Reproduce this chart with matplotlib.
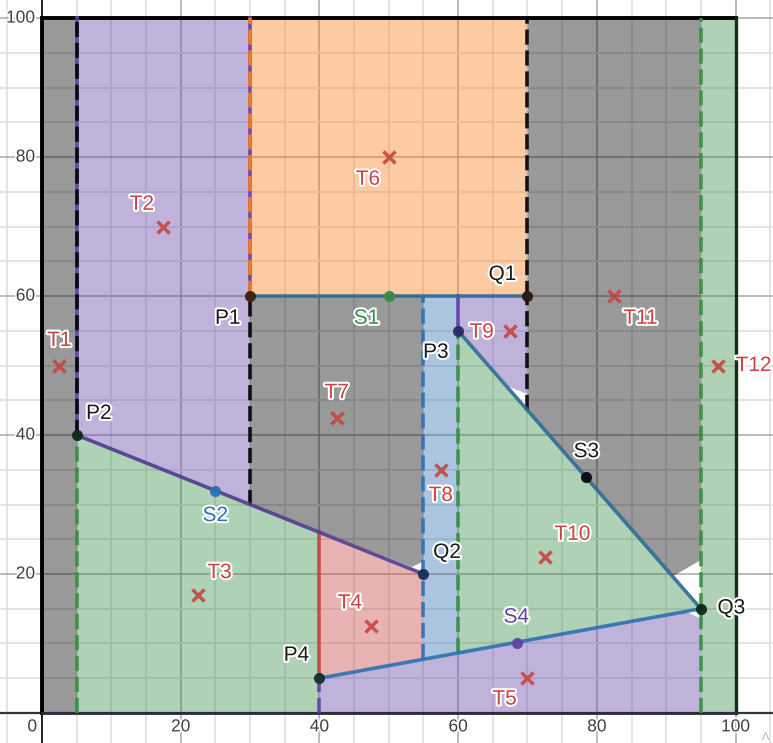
import matplotlib
matplotlib.use('Agg')
import matplotlib.pyplot as plt
import matplotlib.patheffects as pe
import numpy as np

plt.rcParams['font.family'] = ['Liberation Sans', 'DejaVu Sans']

RED = '#c74440'
BLUE = '#2d70b3'
GREEN = '#388c46'
PURPLE = '#6042a6'
ORANGE = '#fa7e19'
BLACK = '#000000'
DARK_BLUE = '#2f6a96'
DARK_PURPLE = '#4f3c8f'

# filled regions
gray_left = [(0, 0), (5, 0), (5, 100), (0, 100)]
gray_mid = [(30, 60), (55, 60), (55, 21.8), (53.3, 21.0), (30, 30)]
gray_right = [(70, 100), (95, 100), (95, 22), (91, 19.7), (70, 43.6)]
purple_left = [(5, 40), (30, 30), (30, 100), (5, 100)]
purple_top = [(60, 60), (70, 60), (70, 45.9), (67.4, 46.9), (60, 55)]
purple_bottom = [(40, 0), (95, 0), (95, 13.6), (92.8, 14.6), (40, 5)]
orange_box = [(30, 60), (70, 60), (70, 100), (30, 100)]
green_left = [(5, 40), (40, 26), (40, 0), (5, 0)]
green_mid = [(60, 55), (95, 15), (60, 8.64)]
green_right = [(95, 0), (100, 0), (100, 100), (95, 100)]
red_box = [(40, 26), (55, 20), (55, 7.73), (40, 5)]
blue_box = [(55, 60), (60, 60), (60, 8.64), (55, 7.73)]

regions = [
    (gray_left, BLACK), (gray_mid, BLACK), (gray_right, BLACK),
    (purple_left, PURPLE), (purple_top, PURPLE), (purple_bottom, PURPLE),
    (orange_box, ORANGE), (green_left, GREEN), (green_mid, GREEN),
    (green_right, GREEN), (red_box, RED), (blue_box, BLUE),
]

# boundary lines: x1, y1, x2, y2, colour, dashed
edges = [
    (5, 40, 5, 100, PURPLE, False), (5, 40, 5, 100, BLACK, True),
    (5, 0, 5, 40, GREEN, True),
    (30, 60, 30, 100, PURPLE, False), (30, 60, 30, 100, ORANGE, True),
    (30, 30, 30, 60, BLACK, True),
    (70, 60, 70, 100, BLACK, True), (70, 43.6, 70, 60, BLACK, True),
    (55, 7.73, 55, 60, BLUE, True),
    (60, 8.64, 60, 55, GREEN, True), (60, 55, 60, 60, PURPLE, False),
    (95, 0, 95, 100, GREEN, True),
    (40, 5, 40, 26, RED, False), (40, 0, 40, 5, PURPLE, True),
    (30, 60, 70, 60, DARK_BLUE, False),
    (5, 40, 55, 20, DARK_PURPLE, False),
    (60, 55, 95, 15, DARK_BLUE, False),
    (40, 5, 95, 15, BLUE, False),
]

# crosses
t_names = ['T1', 'T2', 'T3', 'T4', 'T5', 'T6', 'T7', 'T8', 'T9', 'T10', 'T11', 'T12']
t_x = [2.5, 17.5, 22.5, 47.5, 70, 50, 42.5, 57.5, 67.5, 72.5, 82.5, 97.5]
t_y = [50, 70, 17, 12.5, 5, 80, 42.5, 35, 55, 22.5, 60, 50]
t_label_x = [2.5, 14.4, 25.6, 44.4, 66.7, 47, 42.5, 57.5, 63.4, 76.5, 86.3, 102.6]
t_label_y = [53.6, 73.2, 20.2, 15.8, 2.0, 76.8, 46.1, 31.3, 54.8, 25.7, 56.8, 50.0]

# named points
pt_names = ['P1', 'P2', 'P3', 'P4', 'Q1', 'Q2', 'Q3', 'S1', 'S2', 'S3', 'S4']
pt_x = [30, 5, 60, 40, 70, 55, 95, 50, 25, 78.5, 68.5]
pt_y = [60, 40, 55, 5, 60, 20, 15, 60, 32, 34, 10]
pt_label_x = [26.8, 8.2, 56.8, 36.7, 66.4, 58.4, 99.4, 46.8, 25, 78.5, 68.4]
pt_label_y = [56.8, 43.1, 51.9, 8.3, 63.1, 23.1, 15.1, 56.8, 28.4, 37.6, 13.8]
pt_colors = [BLACK] * 7 + [GREEN, BLUE, BLACK, PURPLE]
dot_colors = ['#3a2010', '#14241c', '#243060', '#143026', '#2a1a10', '#16305a',
              '#0c2a18', GREEN, BLUE, '#0a0a0a', PURPLE]

tick_vals = [20, 40, 60, 80, 100]

fig = plt.figure(figsize=(7.73, 7.43), dpi=100)
ax = fig.add_axes([0, 0, 1, 1])
ax.set_xlim(-6.05, 105.4)
ax.set_ylim(-4.32, 102.6)
for s in ax.spines.values():
    s.set_visible(False)

ax.set_xticks(np.arange(0, 101, 20))
ax.set_yticks(np.arange(0, 101, 20))
ax.set_xticks(np.arange(-5, 106, 5), minor=True)
ax.set_yticks(np.arange(0, 101, 5), minor=True)
ax.tick_params(which='both', length=0, labelbottom=False, labelleft=False)
ax.grid(which='minor', color='#e2e2e2', lw=1.3, zorder=0)
ax.grid(which='major', color='#a8a8a8', lw=1.1, zorder=0)
ax.set_axisbelow(True)

for poly, col in regions:
    ax.fill(*zip(*poly), color=col, alpha=0.4, lw=0, zorder=1)

# axes and outer box
ax.axvline(0, color='#222222', lw=1.4, zorder=2)
ax.axhline(0, color='#333333', lw=1.6, zorder=2)
ax.plot([0, 0, 100], [0, 100, 100], color=BLACK, lw=2.8, zorder=3, solid_joinstyle='miter')
ax.plot([100, 100], [0, 100], color='#123018', lw=2.4, zorder=3)
ax.plot([0, 100], [0, 0], color='#2c2c3a', lw=2, zorder=3)

for x1, y1, x2, y2, col, dashed in edges:
    ax.plot([x1, x2], [y1, y2], color=col, lw=2.6, alpha=0.9, zorder=4,
            linestyle=(0, (4.2, 1.6)) if dashed else '-')

halo = [pe.withStroke(linewidth=3, foreground='white')]

ax.plot(t_x, t_y, 'x', color=RED, ms=8, mew=2.5, alpha=0.9, zorder=6)
for n, lx, ly in zip(t_names, t_label_x, t_label_y):
    ax.text(lx, ly, n, color=RED, fontsize=15, ha='center', va='center',
            path_effects=halo, zorder=8)

for x, y, col in zip(pt_x, pt_y, dot_colors):
    ax.plot(x, y, 'o', color=col, ms=8, mew=0, alpha=0.95, zorder=6)
for n, lx, ly, col in zip(pt_names, pt_label_x, pt_label_y, pt_colors):
    ax.text(lx, ly, n, color='#1a1a1a' if col == BLACK else col, fontsize=15,
            ha='center', va='center', path_effects=halo, zorder=8)

# tick labels
tick_halo = [pe.withStroke(linewidth=2.5, foreground='white')]
for v in tick_vals:
    ax.text(v, -2, str(v), color='#404040', fontsize=12.5, ha='center', va='center',
            path_effects=tick_halo, zorder=7)
    ax.text(-1, v, str(v), color='#404040', fontsize=12.5, ha='right', va='center',
            path_effects=tick_halo, zorder=7)
ax.text(-1.4, -2, '0', color='#404040', fontsize=12.5, ha='center', va='center',
        path_effects=tick_halo, zorder=7)

ax.text(104.3, -3.5, '\u039b', color='#b0b0b0', fontsize=8, ha='center', va='center', zorder=7)

fig.savefig('out.png', dpi=100)
